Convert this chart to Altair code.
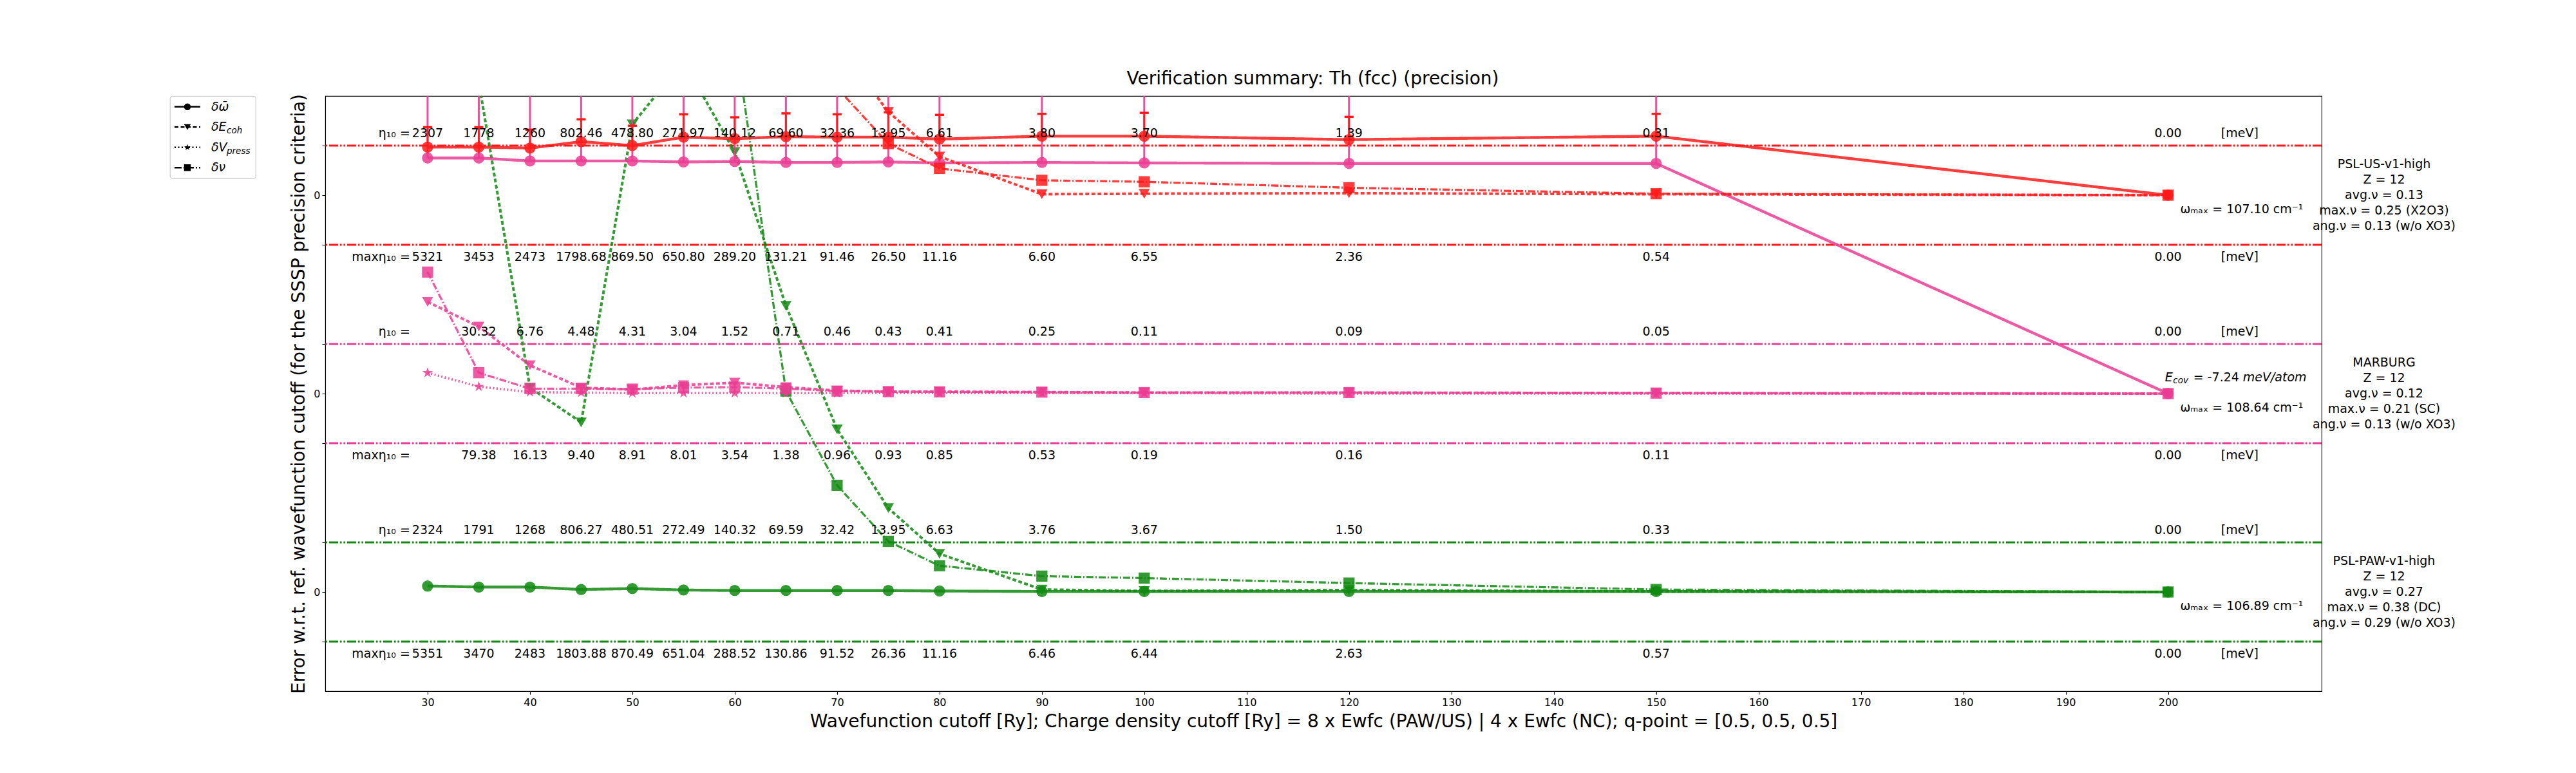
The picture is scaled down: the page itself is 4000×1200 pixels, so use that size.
import altair as alt
import pandas as pd

cutoffs = [30, 35, 40, 45, 50, 55, 60, 65, 70, 75, 80, 90, 100, 120, 150, 200]
x_ticks = [30, 40, 50, 60, 70, 80, 90, 100, 110, 120, 130, 140, 150, 160, 170, 180, 190, 200]
y_ticks = [-1, 0, 1, 3, 4, 5, 7, 8, 9]

# one band per pseudopotential, top to bottom
pseudos = ["PSL-US-v1-high", "MARBURG", "PSL-PAW-v1-high"]
offsets = [8, 4, 0]
colors = ["#ff1a1a", "#ea3c92", "#128a12"]

quantities = ["omega", "ecoh", "vpress", "nu"]
legend_main = ["δω\u0304", "δE", "δV", "δν"]
legend_sub = ["", "coh", "press", ""]

# PSL-US-v1-high (None: above the top of the plot)
us_omega = [0.97, 0.97, 0.95, 1.08, 1.00, 1.17, 1.14, 1.18, 1.17, 1.17, 1.13, 1.19, 1.19, 1.12, 1.19, 0.00]
us_omega_err = [0.40, 0.40, 0.37, 0.45, 0.40, 0.46, 0.43, 0.47, 0.46, 0.50, 0.49, 0.45, 0.47, 0.46, 0.45, 0.00]
us_ecoh = [None, None, None, None, None, None, None, None, 3.06, 1.68, 0.78, 0.02, 0.03, 0.04, 0.02, 0.00]
us_nu = [None, None, None, None, None, None, None, None, 2.16, 1.04, 0.54, 0.30, 0.27, 0.15, 0.03, 0.00]
us_eta = ["2307", "1778", "1260", "802.46", "478.80", "271.97", "140.12", "69.60", "32.36", "13.95",
          "6.61", "3.80", "3.70", "1.39", "0.31", "0.00"]
us_max_eta = ["5321", "3453", "2473", "1798.68", "869.50", "650.80", "289.20", "131.21", "91.46", "26.50",
              "11.16", "6.60", "6.55", "2.36", "0.54", "0.00"]
us_info = ["PSL-US-v1-high", "Z = 12", "avg.ν = 0.13", "max.ν = 0.25 (X2O3)", "ang.ν = 0.13 (w/o XO3)"]

# MARBURG
mb_omega = [4.75, 4.75, 4.69, 4.69, 4.69, 4.67, 4.68, 4.66, 4.66, 4.67, 4.65, 4.66, 4.65, 4.64, 4.64, 0.00]
mb_omega_err = [3.0, 3.0, 3.0, 3.0, 3.0, 3.0, 3.0, 3.0, 3.0, 3.0, 3.0, 3.0, 3.0, 3.0, 3.0, 0.0]
mb_ecoh = [1.85, 1.35, 0.57, 0.12, 0.08, 0.17, 0.22, 0.13, 0.06, 0.04, 0.04, 0.03, 0.02, 0.02, 0.01, 0.00]
mb_vpress = [0.42, 0.14, 0.03, 0.02, 0.01, 0.01, 0.01, 0.01, 0.01, 0.01, 0.01, 0.01, 0.01, 0.00, 0.00, 0.00]
mb_nu = [2.45, 0.42, 0.10, 0.10, 0.09, 0.12, 0.13, 0.10, 0.05, 0.04, 0.035, 0.03, 0.02, 0.02, 0.01, 0.00]
mb_eta = ["", "30.32", "6.76", "4.48", "4.31", "3.04", "1.52", "0.71", "0.46", "0.43",
          "0.41", "0.25", "0.11", "0.09", "0.05", "0.00"]
mb_max_eta = ["", "79.38", "16.13", "9.40", "8.91", "8.01", "3.54", "1.38", "0.96", "0.93",
              "0.85", "0.53", "0.19", "0.16", "0.11", "0.00"]
mb_info = ["MARBURG", "Z = 12", "avg.ν = 0.12", "max.ν = 0.21 (SC)", "ang.ν = 0.13 (w/o XO3)"]
mb_ecov = "-7.24"

# PSL-PAW-v1-high
paw_omega = [0.12, 0.10, 0.10, 0.05, 0.07, 0.04, 0.03, 0.03, 0.03, 0.03, 0.02, 0.01, 0.01, 0.01, 0.01, 0.00]
paw_ecoh = [None, 10.28, 4.12, 3.42, 9.43, 10.70, 8.87, 5.77, 3.28, 1.69, 0.77, 0.05, 0.02, 0.04, 0.01, 0.00]
paw_nu = [None, None, None, None, None, None, 11.22, 4.05, 2.15, 1.02, 0.53, 0.32, 0.28, 0.18, 0.05, 0.00]
paw_eta = ["2324", "1791", "1268", "806.27", "480.51", "272.49", "140.32", "69.59", "32.42", "13.95",
           "6.63", "3.76", "3.67", "1.50", "0.33", "0.00"]
paw_max_eta = ["5351", "3470", "2483", "1803.88", "870.49", "651.04", "288.52", "130.86", "91.52", "26.36",
               "11.16", "6.46", "6.44", "2.63", "0.57", "0.00"]
paw_info = ["PSL-PAW-v1-high", "Z = 12", "avg.ν = 0.27", "max.ν = 0.38 (DC)", "ang.ν = 0.29 (w/o XO3)"]

omega_max = ["107.10", "108.64", "106.89"]

series = {
    "PSL-US-v1-high": {"omega": us_omega, "ecoh": us_ecoh, "nu": us_nu},
    "MARBURG": {"omega": mb_omega, "ecoh": mb_ecoh, "vpress": mb_vpress, "nu": mb_nu},
    "PSL-PAW-v1-high": {"omega": paw_omega, "ecoh": paw_ecoh, "nu": paw_nu},
}
errors = {"PSL-US-v1-high": (us_omega, us_omega_err), "MARBURG": (mb_omega, mb_omega_err)}
etas = [(us_eta, us_max_eta), (mb_eta, mb_max_eta), (paw_eta, paw_max_eta)]
infos = [us_info, mb_info, paw_info]

FONT = "DejaVu Sans"
STAR = ("M0,-1L0.2245,-0.309L0.9511,-0.309L0.3633,0.118L0.5878,0.809L0,0.382"
        "L-0.5878,0.809L-0.3633,0.118L-0.9511,-0.309L-0.2245,-0.309Z")
CRIT_DASH = [14, 2.8, 2.8, 2.8, 2.8, 2.8]

# ---- tables
offset_of = dict(zip(pseudos, offsets))
line_rows = []
for p, qs in series.items():
    for q, vals in qs.items():
        for x, v in zip(cutoffs, vals):
            if v is not None:
                line_rows.append({"pseudo": p, "quantity": q, "x": x, "y": offset_of[p] + v})
lines_df = pd.DataFrame(line_rows)

err_rows = []
for p, (vals, errs) in errors.items():
    for x, v, e in zip(cutoffs, vals, errs):
        if e > 0:
            err_rows.append({"pseudo": p, "x": x, "y": offset_of[p] + v, "y_top": offset_of[p] + v + e})
err_df = pd.DataFrame(err_rows)
cap_df = err_df[err_df.pseudo == "PSL-US-v1-high"].assign(y=lambda d: d.y_top)

crit_df = pd.DataFrame([{"pseudo": p, "y": o + s} for p, o in zip(pseudos, offsets) for s in (-1, 1)])

val_rows, pre_rows, omega_rows, info_rows = [], [], [], []
for p, o, (eta, meta), info, w in zip(pseudos, offsets, etas, infos, omega_max):
    for x, a, b in zip(cutoffs, eta, meta):
        val_rows.append({"x": x, "y": o + 1.25, "text": a})
        val_rows.append({"x": x, "y": o - 1.25, "text": b})
    val_rows.append({"x": 207, "y": o + 1.25, "text": "[meV]"})
    val_rows.append({"x": 207, "y": o - 1.25, "text": "[meV]"})
    pre_rows.append({"x": 28.3, "y": o + 1.25, "text": "η₁₀ ="})
    pre_rows.append({"x": 28.3, "y": o - 1.25, "text": "maxη₁₀ ="})
    omega_rows.append({"x": 201.2, "y": o - 0.29, "text": f"ωₘₐₓ = {w} cm⁻¹"})
    info_rows.append({"x": 221.1, "y": o, "text": "\n".join(info)})
vals_df = pd.DataFrame(val_rows)
pre_df = pd.DataFrame(pre_rows)
omega_df = pd.DataFrame(omega_rows)
info_df = pd.DataFrame(info_rows)
ecov_df = pd.DataFrame([{"x": 199.7, "y": 4.32}])

# ---- shared encodings
X = alt.X("x:Q", scale=alt.Scale(domain=[20, 215], nice=False, zero=False),
          axis=alt.Axis(values=x_ticks, grid=False, labelPadding=4, titlePadding=8,
                        title="Wavefunction cutoff [Ry]; Charge density cutoff [Ry] = 8 x Ewfc (PAW/US) | 4 x Ewfc (NC); q-point = [0.5, 0.5, 0.5]"))
Y = alt.Y("y:Q", scale=alt.Scale(domain=[-2, 10], nice=False, zero=False),
          axis=alt.Axis(values=y_ticks, grid=False, labelExpr="datum.value % 4 == 0 ? '0' : ''",
                        labelPadding=3, titlePadding=8,
                        title="Error w.r.t. ref. wavefunction cutoff (for the SSSP precision criteria)"))
color_scale = alt.Scale(domain=pseudos, range=colors)
dash_scale = alt.Scale(domain=quantities, range=[[1, 0], [11, 4.8], [3, 5], [19, 4.8, 3, 4.8]])
shape_scale = alt.Scale(domain=quantities, range=["circle", "triangle-down", STAR, "square"])

layers = [
    alt.Chart(crit_df).mark_rule(strokeDash=CRIT_DASH, strokeWidth=3).encode(
        y=Y, color=alt.Color("pseudo:N", scale=color_scale, legend=None))
]

for p in ["PSL-PAW-v1-high", "MARBURG", "PSL-US-v1-high"]:
    c = colors[pseudos.index(p)]
    if p in errors:
        layers.append(alt.Chart(err_df).transform_filter(alt.datum.pseudo == p)
                      .mark_rule(clip=True, color=c, strokeWidth=3, opacity=0.9)
                      .encode(x=X, y=Y, y2=alt.Y2("y_top:Q")))
    if p == "PSL-US-v1-high":
        layers.append(alt.Chart(cap_df).mark_point(shape="stroke", size=200, strokeWidth=3.5,
                                                   color=c, opacity=1, clip=True)
                      .encode(x=X, y=Y))
    base = alt.Chart(lines_df).transform_filter(alt.datum.pseudo == p)
    layers.append(base.mark_line(clip=True, color=c, opacity=0.85).encode(
        x=X, y=Y,
        strokeDash=alt.StrokeDash("quantity:N", scale=dash_scale, legend=None),
        strokeWidth=alt.StrokeWidth("quantity:N", scale=alt.Scale(domain=quantities, range=[4.4, 3.3, 3.3, 3.3]),
                                    legend=None)))
    layers.append(base.mark_point(filled=True, clip=True, color=c, opacity=0.85, size=300).encode(
        x=X, y=Y,
        shape=alt.Shape("quantity:N", scale=shape_scale, legend=None)))

TS = 19
layers += [
    alt.Chart(vals_df).mark_text(fontSize=TS, align="center", baseline="middle", color="black")
    .encode(x=X, y=Y, text="text:N"),
    alt.Chart(pre_df).mark_text(fontSize=TS, align="right", baseline="middle", color="black")
    .encode(x=X, y=Y, text="text:N"),
    alt.Chart(omega_df).mark_text(fontSize=TS, align="left", baseline="middle", color="black")
    .encode(x=X, y=Y, text="text:N"),
    alt.Chart(info_df).mark_text(fontSize=TS, align="center", baseline="middle", color="black",
                                 lineBreak="\n", lineHeight=24, dy=-48)
    .encode(x=X, y=Y, text="text:N"),
]
for txt, style, size, dx, dy in [("E", "italic", TS, 0, 0), ("cov", "italic", 13.5, 12.5, 5),
                                 ("= " + mb_ecov, "normal", TS, 44, 0), ("meV/atom", "italic", TS, 121, 0)]:
    layers.append(alt.Chart(ecov_df).mark_text(text=txt, fontStyle=style, fontSize=size, dx=dx, dy=dy,
                                               align="left", baseline="middle", color="black")
                  .encode(x=X, y=Y))

main = alt.layer(*layers).properties(
    width=3100, height=924,
    view=alt.ViewBackground(stroke="black", strokeWidth=1.1),
)

# ---- legend panel
LEG_W, LEG_H = 133, 128
leg_df = pd.DataFrame({"quantity": quantities, "main": legend_main, "sub": legend_sub,
                       "x0": 7, "x1": 47, "xm": 27, "xt": 64})
leg_y = alt.Y("quantity:N", sort=quantities, scale=alt.Scale(type="point", padding=0.53), axis=None)


def leg_x(field):
    return alt.X(f"{field}:Q", scale=alt.Scale(domain=[0, LEG_W], nice=False, zero=True), axis=None)


leg_base = alt.Chart(leg_df)
legend = alt.layer(
    leg_base.mark_rule(color="black", strokeWidth=2.6).encode(
        x=leg_x("x0"), x2="x1:Q", y=leg_y,
        strokeDash=alt.StrokeDash("quantity:N", legend=None,
                                  scale=alt.Scale(domain=quantities,
                                                  range=[[1, 0], [6, 3.5], [2, 3.5], [11, 3, 2, 3]]))),
    leg_base.mark_point(filled=True, color="black", opacity=1, size=110).encode(
        x=leg_x("xm"), y=leg_y,
        shape=alt.Shape("quantity:N", scale=shape_scale, legend=None)),
    leg_base.mark_text(align="left", baseline="middle", fontSize=19, fontStyle="italic", color="black").encode(
        x=leg_x("xt"), y=leg_y, text="main:N"),
    leg_base.transform_filter("datum.sub != ''").mark_text(
        align="left", baseline="middle", fontSize=13.5, fontStyle="italic", color="black", dx=24, dy=6).encode(
        x=leg_x("xt"), y=leg_y, text="sub:N"),
).properties(
    width=LEG_W, height=LEG_H,
    view=alt.ViewBackground(stroke="#cccccc", strokeWidth=1.2, cornerRadius=4),
)

chart = alt.hconcat(legend, main, spacing=52).properties(
    title=alt.TitleParams("Verification summary: Th (fcc) (precision)", fontSize=28, fontWeight="normal",
                          anchor="middle", offset=8, color="black"),
    padding={"left": 255, "top": 100, "right": 10, "bottom": 10},
).configure(font=FONT).configure_axis(
    labelFontSize=16, labelColor="black", titleFontSize=28, titleFontWeight="normal", titleColor="black",
    tickColor="black", tickSize=5, tickWidth=1.1, domainColor="black", domainWidth=1.1,
)

chart.save("out.html", embed_options={"renderer": "svg", "actions": False})
